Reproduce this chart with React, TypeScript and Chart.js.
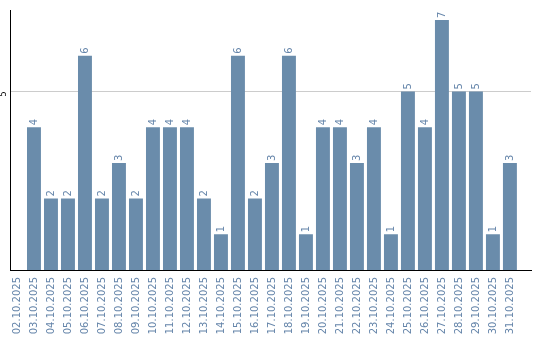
import React, { useEffect, useRef } from "react";
import { Chart, registerables } from "chart.js";

Chart.register(...registerables);

const dateLabels: string[] = [
  "02.10.2025", "03.10.2025", "04.10.2025", "05.10.2025", "06.10.2025",
  "07.10.2025", "08.10.2025", "09.10.2025", "10.10.2025", "11.10.2025",
  "12.10.2025", "13.10.2025", "14.10.2025", "15.10.2025", "16.10.2025",
  "17.10.2025", "18.10.2025", "19.10.2025", "20.10.2025", "21.10.2025",
  "22.10.2025", "23.10.2025", "24.10.2025", "25.10.2025", "26.10.2025",
  "27.10.2025", "28.10.2025", "29.10.2025", "30.10.2025", "31.10.2025",
];

const counts: number[] = [
  0, 4, 2, 2, 6, 2, 3, 2, 4, 4,
  4, 2, 1, 6, 2, 3, 6, 1, 4, 4,
  3, 4, 1, 5, 4, 7, 5, 5, 1, 3,
];

const yTickValues: number[] = [5];

const BAR_COLOR = "#6a8cab";
const TEXT_COLOR = "#6585aa";
const FONT = "'DejaVu Sans', sans-serif";

const valueLabelPlugin = {
  id: "valueLabels",
  afterDatasetsDraw(chart: any) {
    const ctx = chart.ctx;
    const meta = chart.getDatasetMeta(0);
    ctx.save();
    ctx.fillStyle = TEXT_COLOR;
    ctx.font = `10px ${FONT}`;
    ctx.textAlign = "left";
    ctx.textBaseline = "middle";
    meta.data.forEach((bar: any, i: number) => {
      const v = counts[i];
      if (!v) return;
      ctx.save();
      ctx.translate(bar.x, bar.y - 2);
      ctx.rotate(-Math.PI / 2);
      ctx.fillText(String(v), 0, 0);
      ctx.restore();
    });
    ctx.restore();
  },
};

export default function App() {
  const ref = useRef<HTMLCanvasElement | null>(null);

  useEffect(() => {
    if (!ref.current) return;
    const chart = new Chart(ref.current, {
      type: "bar",
      data: {
        datasets: [
          {
            data: counts.map((c, i) => ({ x: i, y: c })),
            backgroundColor: BAR_COLOR,
            borderWidth: 0,
            barPercentage: 0.82,
            categoryPercentage: 1,
          },
        ],
      },
      options: {
        animation: false,
        responsive: false,
        devicePixelRatio: 1,
        layout: { padding: { top: 10, right: 9, left: 0, bottom: 0 } },
        plugins: {
          legend: { display: false },
          tooltip: { enabled: false },
        },
        scales: {
          x: {
            type: "linear",
            offset: false,
            min: -0.41,
            max: 30.24,
            afterBuildTicks: (s: any) => {
              s.ticks = dateLabels.map((_, i) => ({ value: i }));
            },
            afterFit: (s: any) => {
              s.height = 70;
            },
            grid: { display: false, drawTicks: false },
            border: { display: true, color: "#000000", width: 1 },
            ticks: {
              autoSkip: false,
              minRotation: 90,
              maxRotation: 90,
              padding: 7,
              color: TEXT_COLOR,
              font: { family: FONT, size: 10 },
              callback: (v: any) => dateLabels[Math.round(Number(v))] ?? "",
            },
          },
          y: {
            min: 0,
            max: 7.26,
            afterBuildTicks: (s: any) => {
              s.ticks = yTickValues.map((v) => ({ value: v }));
            },
            afterFit: (s: any) => {
              s.width = 10;
            },
            grid: { color: "#cccccc", lineWidth: 1, drawTicks: false },
            border: { display: true, color: "#000000", width: 1 },
            ticks: {
              minRotation: 90,
              maxRotation: 90,
              padding: 6,
              color: "#000000",
              font: { family: FONT, size: 8 },
            },
          },
        },
      },
      plugins: [valueLabelPlugin],
    } as any);
    return () => chart.destroy();
  }, []);

  return (
    <div style={{ position: "absolute", left: 0, top: 0, width: 540, height: 340, background: "#fff" }}>
      <canvas ref={ref} width={540} height={340} style={{ display: "block", width: 540, height: 340 }} />
    </div>
  );
}
